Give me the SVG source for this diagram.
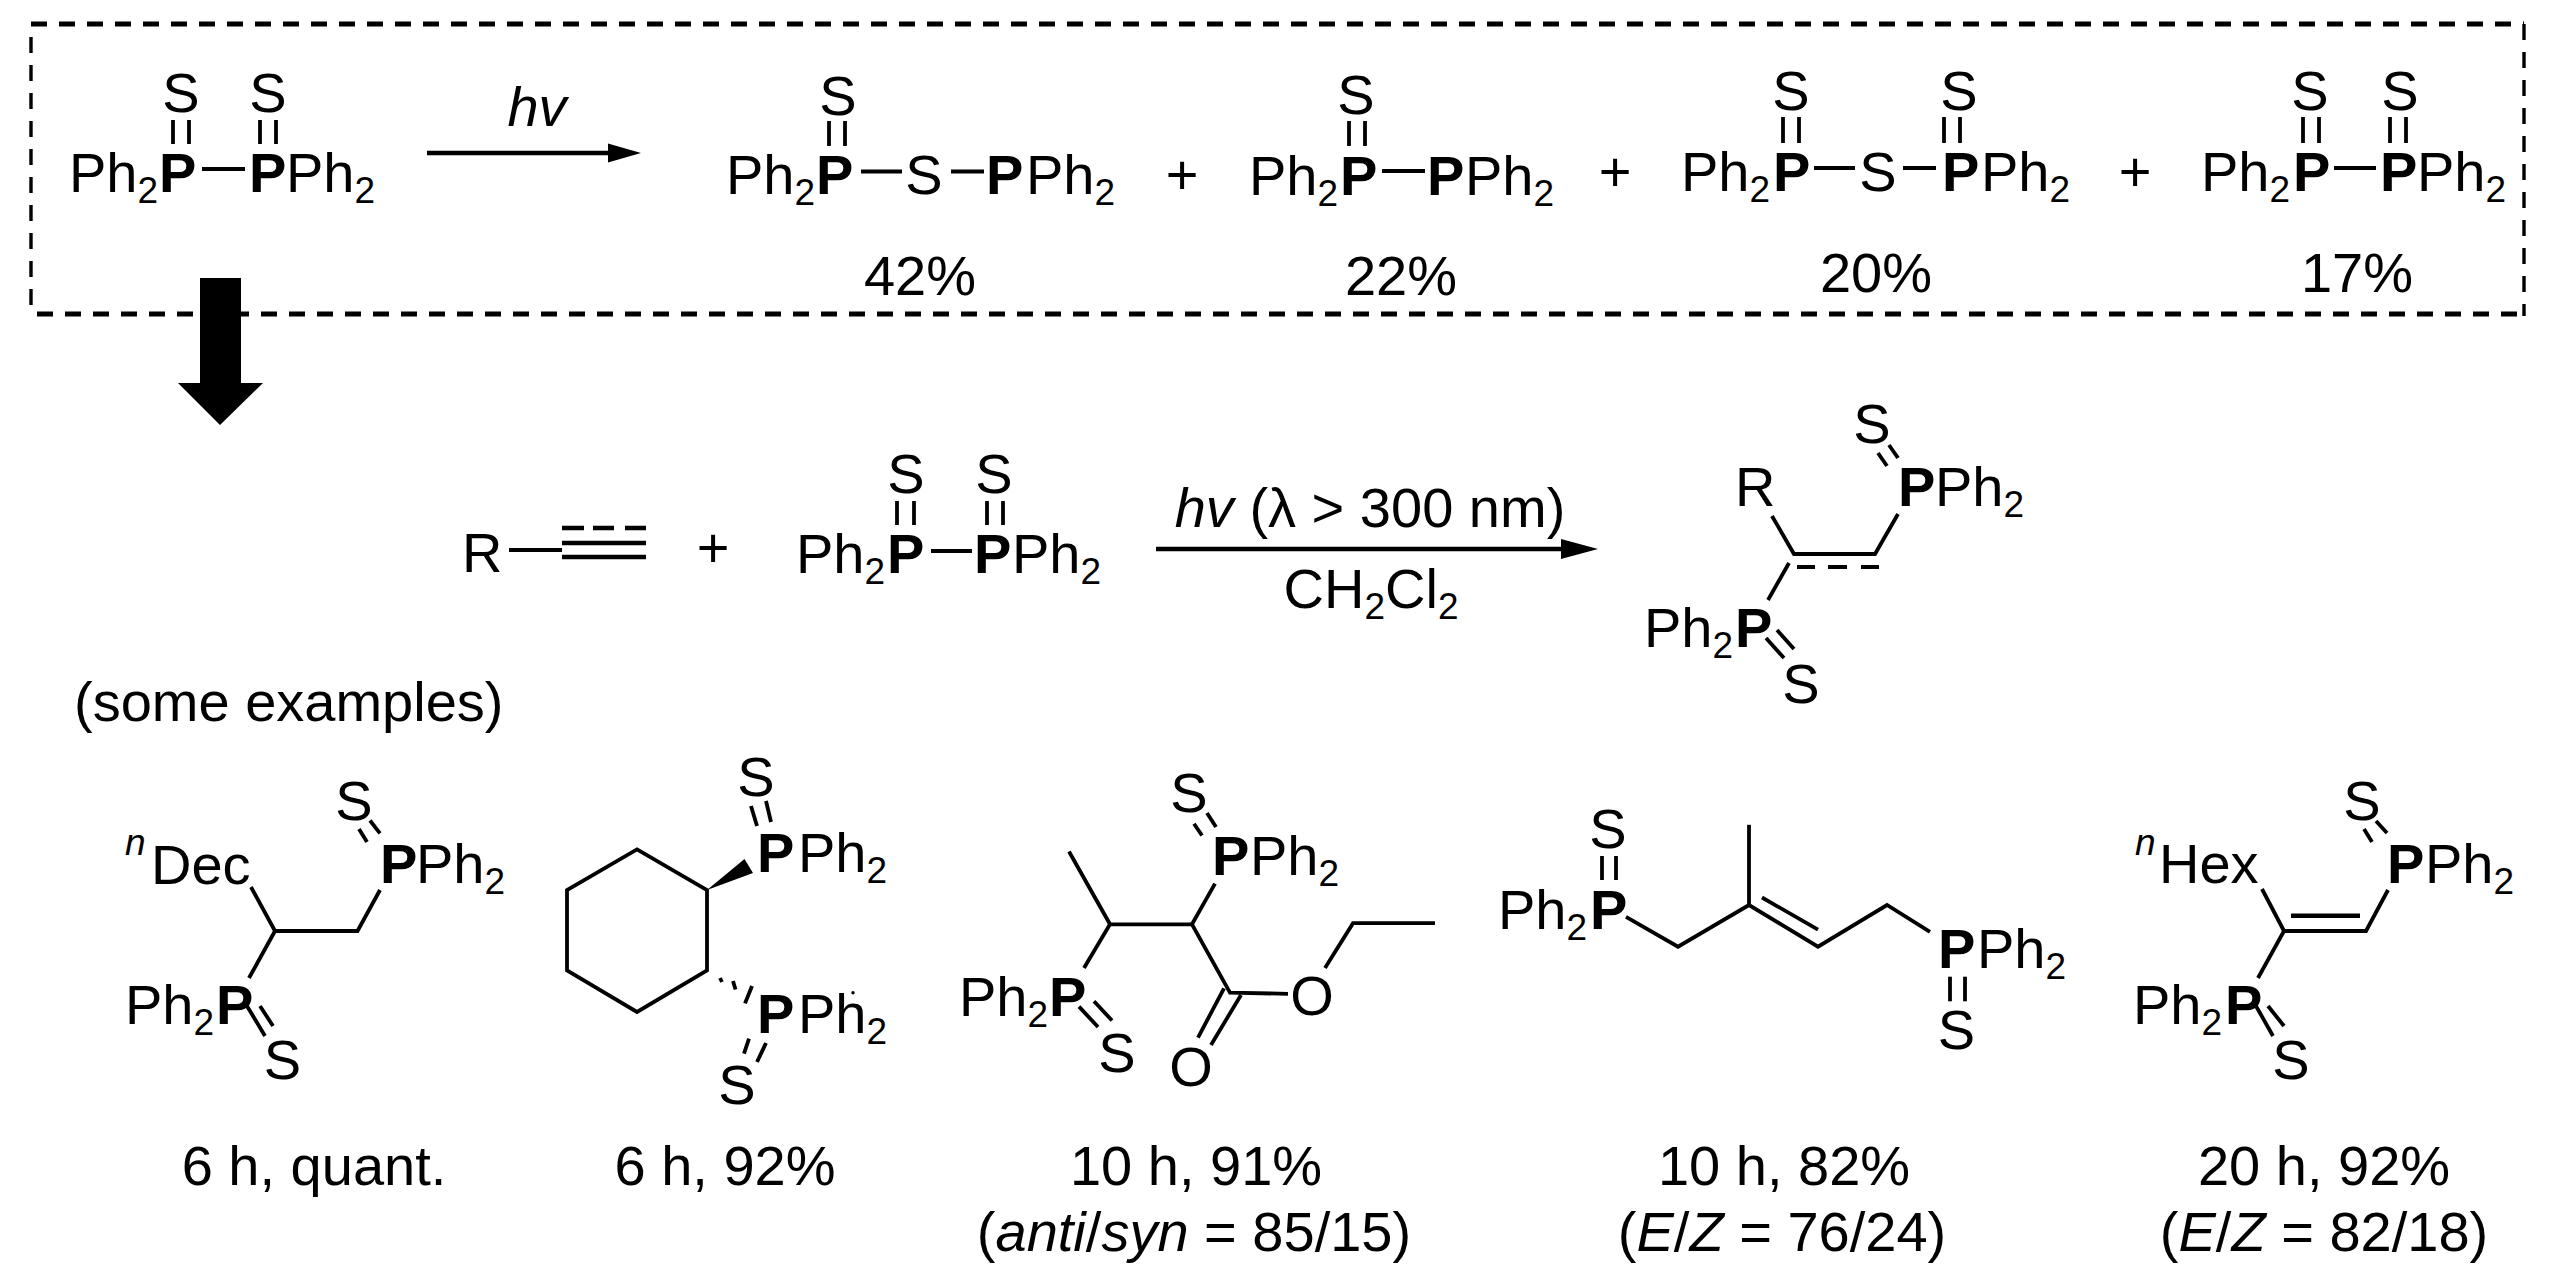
<svg xmlns="http://www.w3.org/2000/svg" width="2558" height="1279" viewBox="0 0 2558 1279">
<style>
text{font-family:"Liberation Sans",Arial,sans-serif;font-size:56px;fill:#000}
.b{font-weight:bold}
.i{font-style:italic}
.s{font-size:37px}
.m{text-anchor:middle}
line,polyline,polygon.o,path.o{stroke:#000;stroke-width:3.8;fill:none}
.bx{stroke:#000;stroke-width:5;fill:none;stroke-dasharray:16 12}
.v{stroke-width:3.4}
.h{stroke-width:4.5}
</style>
<rect width="2558" height="1279" fill="#fff"/>
<g id="frame">
<line class="bx" x1="31" y1="24" x2="2524" y2="24"/>
<line class="bx" x1="37" y1="314" x2="2524" y2="314"/>
<line class="bx v" x1="31" y1="37" x2="31" y2="306"/>
<line class="bx v" x1="2524" y1="24" x2="2524" y2="316"/>
</g>
<g id="connectors">
<line x1="427" y1="153" x2="612" y2="153" class="h"/>
<polygon points="641,153 608,143.5 608,162.5" fill="#000"/>
<line x1="1156" y1="549" x2="1565" y2="549" class="h"/>
<polygon points="1598,549 1561,539 1561,559" fill="#000"/>
<polygon id="block-arrow" points="200,278 241,278 241,383 263,383 220,425 178,383 200,383" fill="#000"/>
</g>
<g id="conditions">
<text class="i m" x="537" y="126">hv</text>
<text class="m" x="1370" y="527"><tspan class="i">hv</tspan> (λ &gt; 300 nm)</text>
<text class="m" x="1371" y="608">CH<tspan class="s" dy="11">2</tspan><tspan dy="-11">Cl</tspan><tspan class="s" dy="11">2</tspan></text>
</g>
<g id="substrate-1">
<text x="69" y="192">Ph<tspan class="s" dy="11">2</tspan></text>
<text class="b" x="159" y="192">P</text><text class="b" x="249" y="192">P</text>
<text x="286" y="192">Ph<tspan class="s" dy="11">2</tspan></text>
<text class="m" x="181" y="112">S</text><text class="m" x="268" y="112">S</text>
<line x1="173" y1="120" x2="173" y2="144"/><line x1="189" y1="120" x2="189" y2="144"/>
<line x1="260" y1="120" x2="260" y2="144"/><line x1="276" y1="120" x2="276" y2="144"/>
<line x1="202" y1="169" x2="245" y2="169"/>
</g>
<g id="product-a">
<text x="726" y="194">Ph<tspan class="s" dy="11">2</tspan></text>
<text class="b" x="816" y="194">P</text>
<text class="m" x="838" y="115">S</text>
<line x1="829" y1="121" x2="829" y2="146"/><line x1="845" y1="121" x2="845" y2="146"/>
<line x1="861" y1="171.5" x2="902" y2="171.5"/>
<text class="m" x="924" y="194">S</text>
<line x1="951" y1="171.5" x2="984" y2="171.5"/>
<text class="b" x="986" y="194">P</text>
<text x="1026" y="194">Ph<tspan class="s" dy="11">2</tspan></text>
<text class="m" x="920" y="295">42%</text>
</g>
<text id="plus-1" class="m" x="1182" y="194">+</text>
<g id="product-b">
<text x="1249" y="195">Ph<tspan class="s" dy="11">2</tspan></text>
<text class="b" x="1340" y="195">P</text>
<text class="m" x="1356" y="114">S</text>
<line x1="1349" y1="121" x2="1349" y2="146"/><line x1="1365" y1="121" x2="1365" y2="146"/>
<line x1="1382" y1="171" x2="1425" y2="171"/>
<text class="b" x="1427" y="195">P</text>
<text x="1465" y="195">Ph<tspan class="s" dy="11">2</tspan></text>
<text class="m" x="1401" y="295">22%</text>
</g>
<text id="plus-2" class="m" x="1615" y="191">+</text>
<g id="product-c">
<text x="1681" y="191">Ph<tspan class="s" dy="11">2</tspan></text>
<text class="b" x="1773" y="191">P</text>
<text class="m" x="1791" y="110">S</text>
<line x1="1783" y1="117" x2="1783" y2="143"/><line x1="1799" y1="117" x2="1799" y2="143"/>
<line x1="1814" y1="168" x2="1855" y2="168"/>
<text class="m" x="1878" y="191">S</text>
<line x1="1903" y1="168" x2="1936" y2="168"/>
<text class="b" x="1942" y="191">P</text>
<text class="m" x="1959" y="110">S</text>
<line x1="1944" y1="117" x2="1944" y2="143"/><line x1="1960" y1="117" x2="1960" y2="143"/>
<text x="1981" y="191">Ph<tspan class="s" dy="11">2</tspan></text>
<text class="m" x="1876" y="292">20%</text>
</g>
<text id="plus-3" class="m" x="2135" y="191">+</text>
<g id="product-d">
<text x="2201" y="191">Ph<tspan class="s" dy="11">2</tspan></text>
<text class="b" x="2293" y="191">P</text>
<text class="m" x="2310" y="110">S</text><text class="m" x="2400" y="110">S</text>
<line x1="2303" y1="117" x2="2303" y2="143"/><line x1="2319" y1="117" x2="2319" y2="143"/>
<line x1="2390" y1="117" x2="2390" y2="143"/><line x1="2406" y1="117" x2="2406" y2="143"/>
<line x1="2334" y1="168" x2="2376" y2="168"/>
<text class="b" x="2380" y="191">P</text>
<text x="2417" y="191">Ph<tspan class="s" dy="11">2</tspan></text>
<text class="m" x="2357" y="292">17%</text>
</g>
<g id="alkyne">
<text x="462" y="572">R</text>
<line x1="509" y1="550" x2="562" y2="550"/>
<line x1="562" y1="543" x2="646" y2="543" class="h"/>
<line x1="562" y1="557" x2="646" y2="557" class="h"/>
<line x1="562" y1="528" x2="646" y2="528" class="h" stroke-dasharray="22 9 21 11 21"/>
</g>
<text id="plus-4" class="m" x="713" y="567">+</text>
<g id="substrate-2">
<text x="796" y="573">Ph<tspan class="s" dy="11">2</tspan></text>
<text class="b" x="887" y="573">P</text><text class="b" x="974" y="573">P</text>
<text x="1012" y="573">Ph<tspan class="s" dy="11">2</tspan></text>
<text class="m" x="906" y="493">S</text><text class="m" x="994" y="493">S</text>
<line x1="897" y1="501" x2="897" y2="525"/><line x1="914" y1="501" x2="914" y2="525"/>
<line x1="987" y1="501" x2="987" y2="525"/><line x1="1003" y1="501" x2="1003" y2="525"/>
<line x1="931" y1="551" x2="972" y2="551"/>
</g>
<g id="general-product">
<text class="m" x="1872" y="443">S</text>
<line x1="1889" y1="445" x2="1898" y2="458"/><line x1="1878" y1="453" x2="1887" y2="466"/>
<text class="b" x="1898" y="506">P</text>
<text x="1935" y="506">Ph<tspan class="s" dy="11">2</tspan></text>
<text x="1735" y="506">R</text>
<polyline points="1772,516 1794,554 1875,554 1898,514"/>
<line x1="1789" y1="563" x2="1768" y2="600"/>
<line x1="1797" y1="567" x2="1879" y2="567" stroke-dasharray="18 13 19 14 18"/>
<text x="1644" y="647">Ph<tspan class="s" dy="11">2</tspan></text>
<text class="b" x="1735" y="647">P</text>
<line x1="1777" y1="630" x2="1794" y2="649"/><line x1="1766" y1="638" x2="1784" y2="658"/>
<text class="m" x="1801" y="703">S</text>
</g>
<text id="examples-note" x="74" y="721">(some examples)</text>
<g id="example-1">
<text class="i s" x="125" y="855">n</text>
<text x="151" y="884">Dec</text>
<text class="m" x="354" y="819.5">S</text>
<line x1="370" y1="820.5" x2="380" y2="833.4"/><line x1="359" y1="829" x2="367" y2="842"/>
<text class="b" x="380" y="882.6">P</text>
<text x="416" y="882.6">Ph<tspan class="s" dy="11">2</tspan></text>
<polyline points="251,887 275,931 357.5,931 380,890"/>
<line x1="275" y1="931" x2="249" y2="978"/>
<text x="125" y="1024">Ph<tspan class="s" dy="11">2</tspan></text>
<text class="b" x="216" y="1024">P</text>
<line x1="247" y1="1006" x2="265" y2="1036"/><line x1="260" y1="1006" x2="273" y2="1026"/>
<text class="m" x="282.5" y="1079">S</text>
<text class="m" x="314" y="1185">6 h, quant.</text>
</g>
<g id="example-2">
<polygon class="o" points="637,849.4 707,890 707,970.3 637,1012 567,970.3 567,890"/>
<polygon points="707,890 744.5,859 753,873" fill="#000"/>
<text class="m" x="756" y="796">S</text>
<line x1="766" y1="801" x2="771" y2="822"/><line x1="751" y1="806" x2="757" y2="826"/>
<text class="b" x="757" y="872">P</text>
<text x="798" y="872">Ph<tspan class="s" dy="11">2</tspan></text>
<line x1="720" y1="978" x2="722" y2="982"/><line x1="733" y1="981" x2="735.5" y2="989.5"/><line x1="752" y1="986" x2="745" y2="1003.4"/>
<text class="b" x="757" y="1033.4">P</text>
<text x="798" y="1033.4">Ph<tspan class="s" dy="11">2</tspan></text>
<circle cx="853" cy="992.7" r="1.7"/>
<line x1="749" y1="1038.7" x2="744" y2="1053.7"/><line x1="766" y1="1043" x2="757" y2="1062"/>
<text class="m" x="737" y="1104">S</text>
<text class="m" x="725" y="1185">6 h, 92%</text>
</g>
<g id="example-3">
<polyline points="1069,851.5 1110,924.3 1192,924.3 1230,992.7 1288,993.8"/>
<line x1="1110" y1="924.3" x2="1084" y2="968"/><line x1="1192" y1="924.3" x2="1215" y2="883.6"/>
<line x1="1224" y1="988.4" x2="1198" y2="1037.6"/><line x1="1241" y1="994.9" x2="1211" y2="1045"/>
<text class="m" x="1312" y="1015">O</text>
<polyline points="1325,968 1353,923.2 1435,923.2"/>
<text class="m" x="1191" y="1086">O</text>
<text class="m" x="1189" y="812">S</text>
<line x1="1207" y1="813" x2="1216" y2="827"/><line x1="1194" y1="823.7" x2="1202" y2="835.5"/>
<text class="b" x="1212" y="875">P</text>
<text x="1250" y="875">Ph<tspan class="s" dy="11">2</tspan></text>
<text x="959" y="1016">Ph<tspan class="s" dy="11">2</tspan></text>
<text class="b" x="1049" y="1016">P</text>
<line x1="1079" y1="1006.6" x2="1098" y2="1027"/><line x1="1094" y1="1001.3" x2="1112" y2="1020.5"/>
<text class="m" x="1117" y="1072">S</text>
<text class="m" x="1196" y="1185">10 h, 91%</text>
<text class="m" x="1194" y="1251">(<tspan class="i">anti</tspan>/<tspan class="i">syn</tspan> = 85/15)</text>
</g>
<g id="example-4">
<text class="m" x="1608" y="848">S</text>
<line x1="1602" y1="856" x2="1602" y2="880"/><line x1="1616" y1="856" x2="1616" y2="880"/>
<text x="1498" y="928.5">Ph<tspan class="s" dy="11">2</tspan></text>
<text class="b" x="1590" y="928.5">P</text>
<polyline points="1626,916.8 1678,946.7 1749,905 1818,946.7 1887,905 1930,931.8"/>
<line x1="1749" y1="824.8" x2="1749" y2="905"/>
<line x1="1762" y1="897.5" x2="1818" y2="929.6"/>
<text class="b" x="1938" y="968">P</text>
<text x="1977" y="968">Ph<tspan class="s" dy="11">2</tspan></text>
<line x1="1950" y1="976.7" x2="1950" y2="1001.3"/><line x1="1965" y1="976.7" x2="1965" y2="1001.3"/>
<text class="m" x="1956.5" y="1049.4">S</text>
<text class="m" x="1784" y="1185">10 h, 82%</text>
<text class="m" x="1782" y="1251">(<tspan class="i">E</tspan>/<tspan class="i">Z</tspan> = 76/24)</text>
</g>
<g id="example-5">
<text class="i s" x="2135" y="855">n</text>
<text x="2159" y="883">Hex</text>
<text class="m" x="2362" y="819.5">S</text>
<line x1="2376" y1="821" x2="2387" y2="833"/><line x1="2364" y1="829" x2="2372" y2="842"/>
<text class="b" x="2387" y="882.6">P</text>
<text x="2425" y="882.6">Ph<tspan class="s" dy="11">2</tspan></text>
<polyline points="2262,889 2284,931 2366,931 2388,890"/>
<line x1="2291" y1="915.7" x2="2360" y2="915.7" class="h"/>
<line x1="2284" y1="931" x2="2258" y2="978"/>
<text x="2133" y="1024">Ph<tspan class="s" dy="11">2</tspan></text>
<text class="b" x="2225" y="1024">P</text>
<line x1="2256" y1="1006" x2="2273" y2="1036"/><line x1="2268" y1="1006" x2="2284" y2="1026"/>
<text class="m" x="2291" y="1079">S</text>
<text class="m" x="2324" y="1185">20 h, 92%</text>
<text class="m" x="2324" y="1251">(<tspan class="i">E</tspan>/<tspan class="i">Z</tspan> = 82/18)</text>
</g>
</svg>
